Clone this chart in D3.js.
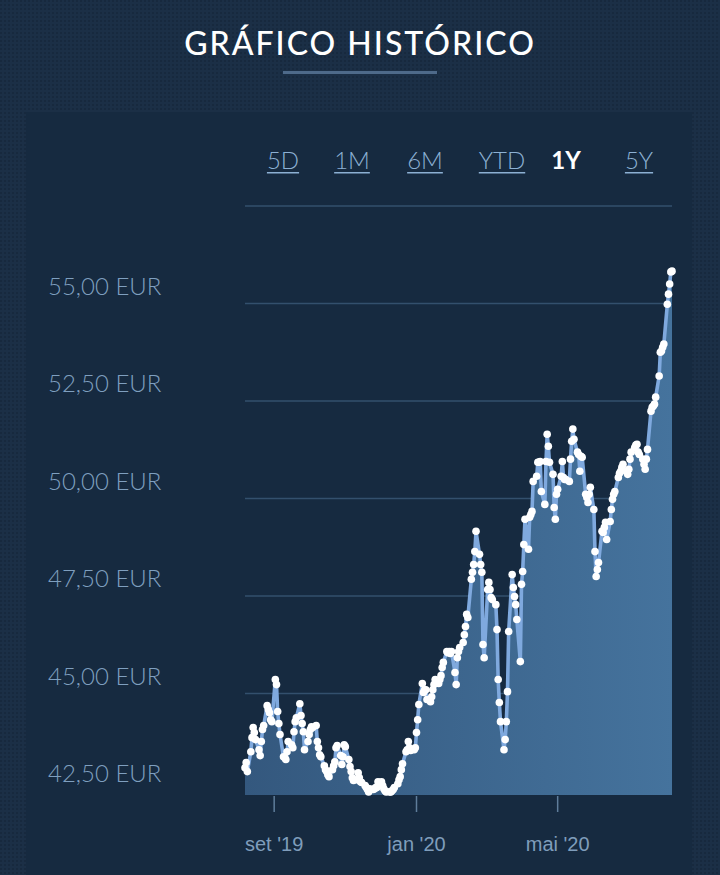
<!DOCTYPE html>
<html><head><meta charset="utf-8">
<script src="https://cdn.jsdelivr.net/npm/d3@7"></script>
<style>html,body{margin:0;padding:0;background:#172a3f;overflow:hidden;}</style>
</head><body><svg id="c" width="720" height="875"></svg>
<script>
const title = "GRÁFICO HISTÓRICO";
const ranges = ["5D","1M","6M","YTD","1Y","5Y"];
const activeRange = "1Y";
const startDate = "2019-08-07";
// one value per trading day (weekdays)
const prices = [
 43.10,43.23,43.00,43.51,43.87, 44.13,44.00,43.82,43.56,43.41,
 43.77,44.08,44.18,44.69,44.59, 44.51,44.33,44.28,45.36,45.23,
 44.54,44.23,43.95,43.38,43.36, 43.31,43.51,43.77,43.69,43.61,
 44.02,44.28,44.38,44.74,44.44, 44.23,44.02,43.56,43.77,43.95,
 44.08,44.15,44.13,44.18,43.77, 43.61,43.43,43.38,43.15,43.05,
 43.00,42.92,42.87,43.05,43.15, 43.25,43.61,43.67,43.41,43.18,
 43.38,43.69,43.64,43.31,43.13, 43.00,42.84,42.77,42.79,42.97,
 42.84,42.74,42.72,42.64,42.59, 42.54,42.48,42.56,42.54,42.56,
 42.59,42.59,42.74,42.74,42.64, 42.56,42.51,42.48,42.48,42.48,
 42.51,42.54,42.59,42.69,42.79, 42.87,43.05,43.20,43.51,43.56,
 43.77,43.61,43.54,43.56,43.61, 44.00,44.33,44.72,45.26,45.03,
 45.10,45.10,44.85,44.79,44.92, 45.10,45.23,45.36,45.26,45.36,
 45.46,45.67,45.80,46.08,46.05, 46.08,46.03,46.08,45.54,45.23,
 45.92,46.08,46.18,46.31,46.51, 46.72,47.03,46.95,47.93,48.11,
 48.31,48.64,49.16,48.57,48.31, 48.11,46.26,45.92,47.67,47.85,
 47.67,47.46,47.41,47.28,46.64, 45.36,44.77,44.28,43.56,43.82,
 44.28,45.05,46.59,48.05,47.72, 47.49,47.28,46.90,45.82,47.80,
 48.13,48.82,49.47,48.70,49.52, 49.59,49.67,50.44,50.57,50.93,
 50.93,50.95,50.18,49.85,50.95, 51.65,51.34,50.93,50.62,49.77,
 49.47,50.11,50.24,50.57,50.95, 50.54,50.49,50.49,50.44,51.01,
 51.47,51.78,51.52,51.19,51.13, 50.70,51.08,51.06,50.11,50.03,
 49.90,50.11,50.29,49.72,48.64, 48.00,48.18,48.36,49.16,49.13,
 49.26,49.39,48.95,49.41,49.72, 49.98,50.11,50.18,50.54,50.65,
 50.70,50.80,50.88,50.70,50.62, 50.75,51.01,51.19,51.31,51.37,
 51.39,51.19,51.13,51.01,50.88, 50.75,51.01,51.26,52.24,52.34,
 52.37,52.42,52.60,53.14,53.75, 53.78,53.88,53.96,54.98,55.24,
 55.50,55.81,55.83
];
const yGrid = [42.5,45,47.5,50,52.5,55,57.5];
const yLabelValues = [42.5,45,47.5,50,52.5,55];
const xTickDates = ["2019-09-01","2020-01-01","2020-05-01"];
const xTickLabels = ["set '19","jan '20","mai '20"];

// trading-day calendar
const parse = d3.timeParse("%Y-%m-%d");
const dates = [];
{ let d = parse(startDate); while (dates.length < prices.length) { const wd = d.getDay(); if (wd !== 0 && wd !== 6) dates.push(new Date(d)); d = d3.timeDay.offset(d, 1); } }
const data = prices.map((v,i)=>({date:dates[i], v}));

const svg = d3.select("#c");
const defs = svg.append("defs");
const pat = defs.append("pattern").attr("id","tex").attr("width",4).attr("height",4).attr("patternUnits","userSpaceOnUse");
pat.append("rect").attr("width",4).attr("height",4).attr("fill","#1b2f46");
pat.append("circle").attr("cx",1).attr("cy",1).attr("r",0.9).attr("fill","#15263a");
const grad = defs.append("linearGradient").attr("id","ag").attr("x1","0").attr("x2","1").attr("y1","0").attr("y2","0");
grad.append("stop").attr("offset","0%").attr("stop-color","#34587e");
grad.append("stop").attr("offset","100%").attr("stop-color","#45739d");

svg.append("rect").attr("width",720).attr("height",875).attr("fill","url(#tex)");
svg.append("rect").attr("x",26).attr("y",112).attr("width",666).attr("height",763).attr("fill","#162a40");

svg.append("text").attr("x",360).attr("y",55).attr("text-anchor","middle")
  .attr("font-family","Lato, 'Open Sans', sans-serif").attr("font-size",32).attr("font-weight",500)
  .attr("letter-spacing",2).attr("fill","#ffffff").text(title);
svg.append("rect").attr("x",283).attr("y",71).attr("width",154).attr("height",3).attr("fill","#4e6a8a");

const btnX = [283,352,425,502,566,639];
ranges.forEach((r,i)=>{
  const active = r===activeRange;
  const t = svg.append("text").attr("x",btnX[i]).attr("y",169).attr("text-anchor","middle")
    .attr("font-family","Lato, sans-serif").attr("font-size",24)
    .attr("font-weight", active?700:300).attr("fill", active?"#ffffff":"#8cb0d3").text(r);
  if(!active){
    const w = t.node().getComputedTextLength();
    svg.append("rect").attr("x",btnX[i]-w/2).attr("y",172).attr("width",w).attr("height",1.5).attr("fill","#8cb0d3");
  }
});

const x = d3.scaleTime().domain([dates[0], dates[dates.length-1]]).range([245,672]);
const y = d3.scaleLinear().domain([42.4,57.5]).range([795,206]);

svg.append("g").selectAll("line").data(yGrid).join("line")
  .attr("x1",245).attr("x2",672).attr("y1",d=>y(d)).attr("y2",d=>y(d))
  .attr("stroke","#33506d").attr("stroke-width",1.5);

const loc = d3.formatLocale({decimal:",",thousands:".",grouping:[3],currency:["","€"]});
const fmt = loc.format(".2f");
svg.append("g").selectAll("text").data(yLabelValues).join("text")
  .attr("x",48).attr("y",d=>y(d)-9)
  .attr("font-family","Lato, sans-serif").attr("font-size",24).attr("font-weight",300)
  .attr("fill","#7f9fbf").text(d=>fmt(d)+" EUR");

const area = d3.area().x(d=>x(d.date)).y0(795).y1(d=>y(d.v));
svg.append("path").datum(data).attr("d",area).attr("fill","url(#ag)");
const line = d3.line().x(d=>x(d.date)).y(d=>y(d.v));
svg.append("path").datum(data).attr("d",line).attr("fill","none").attr("stroke","#7fa9de").attr("stroke-width",3.6).attr("stroke-linejoin","round");
svg.append("g").selectAll("circle").data(data).join("circle")
  .attr("cx",d=>x(d.date)).attr("cy",d=>y(d.v)).attr("r",3.8).attr("fill","#ffffff");

const xt = xTickDates.map(parse);
const xg = svg.append("g");
xg.selectAll("line").data(xt).join("line")
  .attr("x1",d=>x(d)).attr("x2",d=>x(d)).attr("y1",796).attr("y2",812)
  .attr("stroke","#5f7d9b").attr("stroke-width",1.5);
xg.selectAll("text").data(xt).join("text")
  .attr("x",d=>x(d)).attr("y",851).attr("text-anchor","middle")
  .attr("font-family","'Liberation Sans', Arial, sans-serif").attr("font-size",20)
  .attr("fill","#7f9dbb").text((d,i)=>xTickLabels[i]);
</script></body></html>
